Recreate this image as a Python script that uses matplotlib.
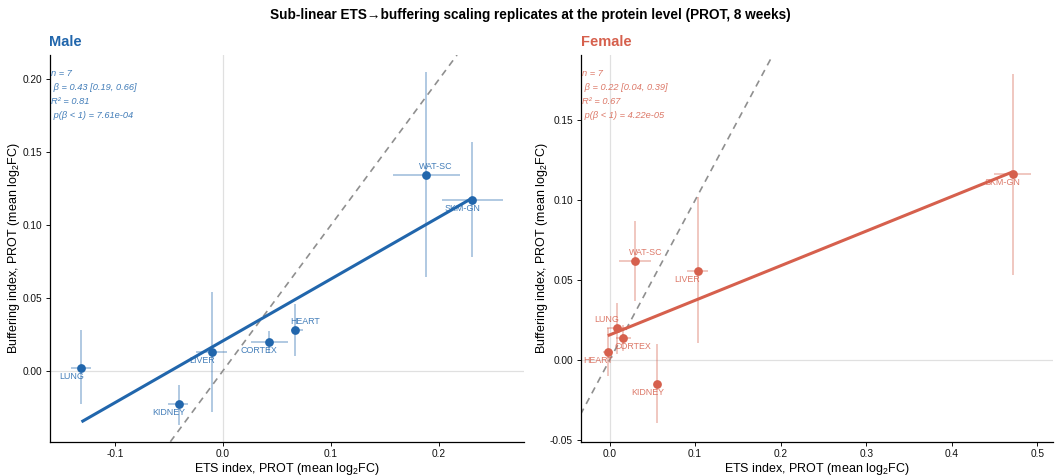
import numpy as np
import matplotlib
matplotlib.use("Agg")
import matplotlib.pyplot as plt

plt.rcParams['font.family'] = ['Liberation Sans', 'DejaVu Sans']
plt.rcParams['mathtext.fontset'] = 'custom'
plt.rcParams['mathtext.rm'] = 'Liberation Sans'
plt.rcParams['mathtext.it'] = 'Liberation Sans:italic'

# ---------------- data ----------------
tissues_m = ['LUNG', 'KIDNEY', 'LIVER', 'CORTEX', 'HEART', 'WAT-SC', 'SKM-GN']
x_m = [-0.131, -0.041, -0.010, 0.043, 0.067, 0.188, 0.231]
y_m = [0.002, -0.023, 0.013, 0.020, 0.028, 0.134, 0.117]
xlo_m = [-0.141, -0.051, -0.025, 0.026, 0.063, 0.157, 0.203]
xhi_m = [-0.122, -0.032, 0.004, 0.060, 0.074, 0.219, 0.259]
ylo_m = [-0.023, -0.037, -0.028, 0.012, 0.010, 0.064, 0.078]
yhi_m = [0.028, -0.010, 0.054, 0.027, 0.046, 0.205, 0.157]
stats_m = ["n = 7", " \u03b2 = 0.43 [0.19, 0.66]", "R\u00b2 = 0.81", " p(\u03b2 < 1) = 7.61e-04"]

tissues_f = ['SKM-GN', 'WAT-SC', 'LIVER', 'LUNG', 'CORTEX', 'HEART', 'KIDNEY']
x_f = [0.471, 0.030, 0.103, 0.009, 0.016, -0.002, 0.056]
y_f = [0.1165, 0.062, 0.056, 0.020, 0.014, 0.005, -0.015]
xlo_f = [0.449, 0.011, 0.091, -0.003, 0.008, -0.008, 0.053]
xhi_f = [0.492, 0.049, 0.115, 0.021, 0.025, 0.004, 0.059]
ylo_f = [0.053, 0.037, 0.011, 0.004, 0.006, -0.010, -0.039]
yhi_f = [0.179, 0.087, 0.102, 0.036, 0.022, 0.020, 0.010]
stats_f = ["n = 7", " \u03b2 = 0.22 [0.04, 0.39]", "R\u00b2 = 0.67", " p(\u03b2 < 1) = 4.22e-05"]

xticks_m = [-0.1, 0.0, 0.1, 0.2]
yticks_m = [0.00, 0.05, 0.10, 0.15, 0.20]
xticks_f = [0.0, 0.1, 0.2, 0.3, 0.4, 0.5]
yticks_f = [-0.05, 0.00, 0.05, 0.10, 0.15]

# label placement (style): horizontal / vertical direction of nudge
nudge_m = [(-1, -1), (-1, -1), (-1, -1), (-1, -1), (1, 1), (1, 1), (-1, -1)]
nudge_f = [(-1, -1), (1, 1), (-1, -1), (-1, 1), (1, -1), (-1, -1), (-1, -1)]

BLUE = '#2166AC'
RED = '#D6604D'

W, H = 1061, 475
fig = plt.figure(figsize=(W / 100, H / 100), dpi=100)


def px_rect(l, r, t, b):
    return [l / W, 1 - b / H, (r - l) / W, (b - t) / H]


ax_m = fig.add_axes(px_rect(49.5, 524, 55, 441.7))
ax_f = fig.add_axes(px_rect(580.5, 1053.3, 55, 441.7))


def panel(ax, tissues, x, y, xlo, xhi, ylo, yhi, stats, nudges, color,
          xlim, ylim, xticks, yticks, title):
    x = np.asarray(x); y = np.asarray(y)
    xerr = [x - np.asarray(xlo), np.asarray(xhi) - x]
    yerr = [y - np.asarray(ylo), np.asarray(yhi) - y]
    ax.axhline(0, color='#e0e0e0', lw=0.9, zorder=0)
    ax.axvline(0, color='#e0e0e0', lw=0.9, zorder=0)
    ax.axline((0, 0), slope=1, color='#8f8f8f', lw=1.2, ls=(0, (4, 3.2)), zorder=1)
    ax.errorbar(x, y, xerr=xerr, yerr=yerr, fmt='none', ecolor=color,
                alpha=0.38, elinewidth=1.3, capsize=0, zorder=2)
    b, a = np.polyfit(x, y, 1)
    xs = np.array([x.min(), x.max()])
    ax.plot(xs, a + b * xs, color=color, lw=2.2, zorder=3, solid_capstyle='butt')
    ax.plot(x, y, 'o', color=color, ms=6.3, mec='none', zorder=4)
    for t, xi, yi, (hx, vy) in zip(tissues, x, y, nudges):
        ax.annotate(t, (xi, yi), xytext=(hx * 7.3, vy * 6.2), textcoords='offset points',
                    ha='center', va='center', fontsize=6.4, color=color, alpha=0.85,
                    zorder=5)
    for i, s in enumerate(stats):
        ax.text(0.004, 0.951 - i * 0.0355, s, transform=ax.transAxes, fontsize=6.7,
                style='italic', color=color, alpha=0.85, ha='left', va='center')
    ax.set_xlim(*xlim)
    ax.set_ylim(*ylim)
    ax.set_xticks(xticks)
    ax.set_yticks(yticks)
    ax.set_xticklabels([f"{v:.1f}" for v in xticks])
    ax.set_yticklabels([f"{v:.2f}" for v in yticks])
    for s in ['top', 'right']:
        ax.spines[s].set_visible(False)
    for s in ['left', 'bottom']:
        ax.spines[s].set_linewidth(0.9)
    ax.tick_params(axis='both', length=3, width=0.7, labelsize=7.3, colors='#111111', pad=2.5)
    ax.set_xlabel(r'ETS index, PROT (mean log$_{2}$FC)', fontsize=9, labelpad=1)
    ax.set_ylabel(r'Buffering index, PROT (mean log$_{2}$FC)', fontsize=9, labelpad=0)
    ax.text(0.0, (441.7 - 45.5) / 386.7, title, transform=ax.transAxes, fontsize=10.5,
            fontweight='bold', color=color, ha='left', va='baseline')


panel(ax_m, tissues_m, x_m, y_m, xlo_m, xhi_m, ylo_m, yhi_m, stats_m, nudge_m, BLUE,
      (-0.1606, 0.2787), (-0.0487, 0.2167), xticks_m, yticks_m, 'Male')
panel(ax_f, tissues_f, x_f, y_f, xlo_f, xhi_f, ylo_f, yhi_f, stats_f, nudge_f, RED,
      (-0.0339, 0.5185), (-0.0509, 0.1908), xticks_f, yticks_f, 'Female')

fig.text(0.5, 1 - 15 / H, 'Sub-linear ETS\u2192buffering scaling replicates at the protein level (PROT, 8 weeks)',
         ha='center', va='center', fontsize=9.8, fontweight='bold')

fig.savefig('out.png', dpi=100)
